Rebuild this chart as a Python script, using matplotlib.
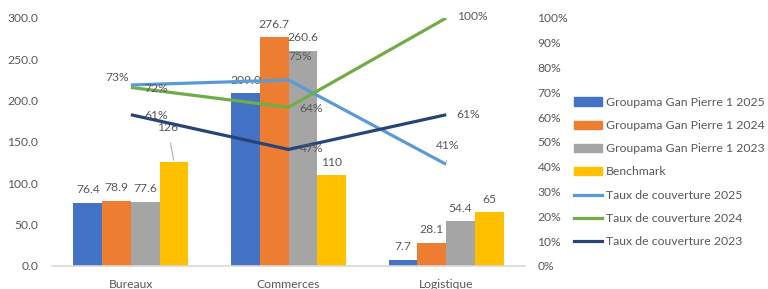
import numpy as np
import matplotlib.pyplot as plt
from matplotlib.patches import Patch
from matplotlib.lines import Line2D

plt.rcParams['font.family'] = ['Lato', 'DejaVu Sans']

categories = ['Bureaux', 'Commerces', 'Logistique']
bar_names = ['Groupama Gan Pierre 1 2025', 'Groupama Gan Pierre 1 2024',
             'Groupama Gan Pierre 1 2023', 'Benchmark']
bar_values = [
    [76.4, 209.0, 7.7],
    [78.9, 276.7, 28.1],
    [77.6, 260.6, 54.4],
    [126, 110, 65],
]
line_names = ['Taux de couverture 2025', 'Taux de couverture 2024', 'Taux de couverture 2023']
taux_2025 = [73, 75, 41]
taux_2024 = [72, 64, 100]
taux_2023 = [61, 47, 61]
line_values = [taux_2025, taux_2024, taux_2023]

bar_colors = ['#4472C4', '#ED7D31', '#A5A5A5', '#FFC000']
line_colors = ['#5B9BD5', '#70AD47', '#264478']
txt = '#595959'
fs = 8.7

fig = plt.figure(figsize=(7.68, 2.89), dpi=100)
ax = fig.add_axes([52/768, 1 - 266/289, (525 - 52)/768, (266 - 18)/289])
x = np.arange(len(categories))
w = 0.182

for i, (vals, col) in enumerate(zip(bar_values, bar_colors)):
    pos = x + (i - 1.5) * w
    ax.bar(pos, vals, width=w, color=col, zorder=2)
    for j, (p, v) in enumerate(zip(pos, vals)):
        if i == 3 and j == 0:
            ax.annotate(f'{v:.0f}', (p, v), xytext=(-6, 34), textcoords='offset pixels',
                        ha='center', va='center', fontsize=fs, color=txt,
                        arrowprops=dict(arrowstyle='-', color='#A6A6A6', lw=0.7,
                                        shrinkA=5, shrinkB=1))
            continue
        label = f'{v:.0f}' if i == 3 else f'{v:.1f}'
        ax.annotate(label, (p, v), xytext=(0, 13), textcoords='offset pixels',
                    ha='center', va='center', fontsize=fs, color=txt)

ax.set_xlim(-0.5, 2.5)
ax.set_ylim(0, 300)
ax.set_yticks(np.arange(0, 301, 50))
ax.set_yticklabels([f'{t:.1f}' for t in np.arange(0, 301, 50)])
ax.set_xticks(x)
ax.set_xticklabels(categories)
ax.tick_params(axis='both', length=0, labelsize=fs, labelcolor=txt)
ax.tick_params(axis='x', pad=9)
ax.tick_params(axis='y', pad=10)
for s in ['top', 'right', 'left']:
    ax.spines[s].set_visible(False)
ax.spines['bottom'].set_color('#D9D9D9')
ax.spines['bottom'].set_linewidth(1.2)

ax2 = ax.twinx()
for vals, col in zip(line_values, line_colors):
    ax2.plot(x, vals, color=col, lw=2.3, solid_capstyle='butt', zorder=3)
ax2.set_ylim(0, 100)
ax2.set_yticks(np.arange(0, 101, 10))
ax2.set_yticklabels([f'{t}%' for t in range(0, 101, 10)])
ax2.tick_params(axis='y', length=0, labelsize=fs, labelcolor=txt, pad=9)
for s in ax2.spines.values():
    s.set_visible(False)

offsets = [
    [(-14, 7), (12, 23), (2, 19)],
    [(25, -1), (23, -1), (26, 1)],
    [(25, -1), (23, 1), (22, 0)],
]
for vals, offs in zip(line_values, offsets):
    for j, (v, o) in enumerate(zip(vals, offs)):
        ap = None
        if vals is taux_2025 and j == 2:
            ap = dict(arrowstyle='-', color='#A6A6A6', lw=0.7, shrinkA=5, shrinkB=2)
        ax2.annotate(f'{v}%', (x[j], v), xytext=o, textcoords='offset pixels',
                     ha='center', va='center', fontsize=fs, color=txt, arrowprops=ap)

handles = [Patch(color=c) for c in bar_colors] + \
          [Line2D([0], [0], color=c, lw=2.3) for c in line_colors]
fig.legend(handles, bar_names + line_names, loc='center left',
           bbox_to_anchor=(574/768, 1 - 172/289), frameon=False, fontsize=8.8,
           labelcolor=txt, handlelength=2.3, handleheight=0.65, handletextpad=0.3,
           labelspacing=1.0, borderpad=0, borderaxespad=0)

fig.savefig('out.png', dpi=100)
